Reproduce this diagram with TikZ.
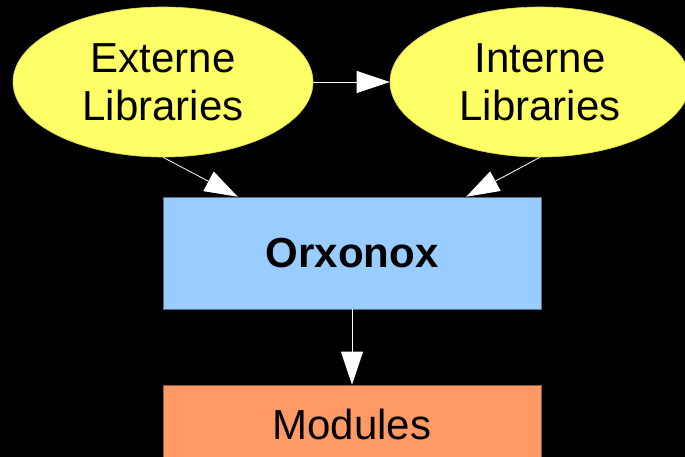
\documentclass[tikz,border=0pt]{standalone}
\usepackage{fontspec}
\setmainfont{Liberation Sans}
\usepackage{xcolor}
\usetikzlibrary{arrows.meta,shapes.geometric,calc}
\definecolor{LibYellow}{HTML}{FFFF66}
\definecolor{LibEdge}{HTML}{D8D850}
\definecolor{CoreBlue}{HTML}{99CCFF}
\definecolor{CoreEdge}{HTML}{4F6F8F}
\definecolor{ModOrange}{HTML}{FF9966}
\definecolor{ModEdge}{HTML}{8F5A3C}

\tikzset{
  libnode/.style={ellipse,fill=LibYellow,draw=LibEdge,line width=0.6pt,minimum width=300pt,minimum height=150pt,inner sep=0pt,align=center,font=\fontsize{42}{48}\selectfont},
  boxnode/.style={rectangle,line width=0.6pt,minimum width=378pt,minimum height=112pt,inner sep=0pt,font=\fontsize{42}{48}\selectfont},
  link/.style={draw=white,line width=0.8pt,-{Triangle[length=33pt,width=22pt,fill=white]}}
}

\begin{document}
\begin{tikzpicture}[x=1pt,y=-1pt]
  \useasboundingbox (0,0) rectangle (685,457);
  \clip (0,0) rectangle (685,457);
  \fill[black] (0,0) rectangle (685,457);
  % libraries
  \node[libnode] (ext) at (163,82) {Externe\\Libraries};
  \node[libnode] (int) at (540,82) {Interne\\Libraries};
  % core and modules
  \node[boxnode,fill=CoreBlue,draw=CoreEdge,font=\fontsize{42}{48}\selectfont\bfseries] (orx) at (352,253) {Orxonox};
  \node[boxnode,fill=ModOrange,draw=ModEdge] (mod) at (352,441) {};
  \node (modlabel) at (352,424) {\fontsize{42}{48}\selectfont Modules};
  % connectors
  \draw[link] (ext) -- (int);
  \draw[link] (ext.south) -- ([xshift=75pt]orx.north west);
  \draw[link] (int.south) -- ([xshift=-75pt]orx.north east);
  \draw[link] (orx) -- (mod);
\end{tikzpicture}
\end{document}
